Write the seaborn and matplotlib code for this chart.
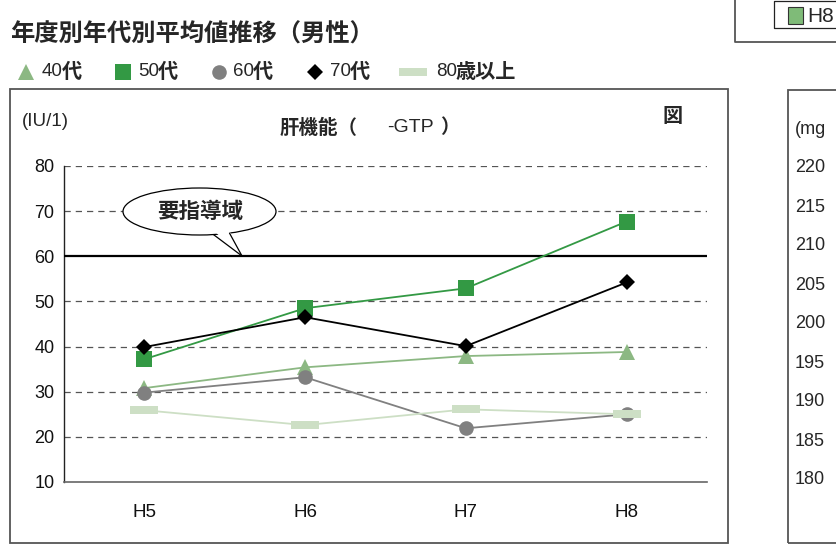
import matplotlib
matplotlib.use("Agg")
import matplotlib.pyplot as plt
import seaborn as sns
from matplotlib.patches import Ellipse, Rectangle, Polygon
from matplotlib.lines import Line2D

# =====================================================
# DATA
# =====================================================

years = ["H5", "H6", "H7", "H8"]
gtp_40 = [30.8, 35.4, 37.9, 38.8]
gtp_50 = [37.2, 48.5, 52.9, 67.7]
gtp_60 = [29.8, 33.2, 21.9, 25.0]
gtp_70 = [39.9, 46.5, 40.1, 54.2]
gtp_80 = [25.9, 22.6, 26.1, 25.0]
series_labels = ["40代", "50代", "60代", "70代", "80歳以上"]
guide_level = 60
y_ticks = [10, 20, 30, 40, 50, 60, 70, 80]
side_ticks = ["220", "215", "210", "205", "200", "195", "190", "185", "180"]

# =====================================================
# STYLE
# =====================================================

sns.set_style("white")
plt.rcParams['font.family'] = ['Liberation Sans', 'Noto Sans CJK JP', 'DejaVu Sans']

W, H = 837, 552


def fx(x):
    return x / W


def fy(y):
    return 1 - y / H


bar_marker = [(-1.75, -0.5), (1.75, -0.5), (1.75, 0.5), (-1.75, 0.5), (-1.75, -0.5)]

# draw order: 80, 40, 60, 70, 50
styles = [
    (gtp_80, "#cddfc5", bar_marker, 19.5, 4),
    (gtp_40, "#8cb883", "^", 11.5, 0),
    (gtp_60, "#808080", "o", 10.5, 2),
    (gtp_70, "#000000", "D", 8.0, 3),
    (gtp_50, "#339944", "s", 11.0, 1),
]

fig = plt.figure(figsize=(W / 100, H / 100), dpi=100)

# =====================================================
# MAIN CHART
# =====================================================

ax = fig.add_axes([fx(64), fy(482), (707 - 64) / W, (482 - 166) / H])

for vals, col, mk, ms, idx in styles:
    sns.lineplot(x=years, y=vals, ax=ax, color=col, marker=mk, markersize=ms,
                 markeredgewidth=0, linewidth=1.3, errorbar=None, zorder=5 + idx)

ax.axhline(guide_level, color="black", linewidth=1.6, zorder=4)
for v in y_ticks[1:]:
    if v != guide_level:
        ax.axhline(v, color="#555555", linewidth=0.9, linestyle=(0, (5, 4)), zorder=1)

ax.set_ylim(10, 80)
ax.set_xlim(-0.5, 3.5)
ax.set_yticks(y_ticks)
ax.set_xticks(range(len(years)))
ax.set_xticklabels(years)
ax.set_xticks([-0.5, 0.5, 1.5, 2.5, 3.5], minor=True)
ax.tick_params(axis="y", length=0, pad=7, labelsize=13, colors="#111111")
ax.tick_params(axis="x", which="major", length=0, pad=16, labelsize=13.5, colors="#111111")
ax.tick_params(axis="x", which="minor", length=5, direction="in", color="#555555", width=1)
ax.set_xlabel("")
ax.set_ylabel("")
sns.despine(ax=ax, top=True, right=True)
ax.spines["left"].set_color("#222222")
ax.spines["bottom"].set_color("#666666")
ax.spines["left"].set_linewidth(1)
ax.spines["bottom"].set_linewidth(1.2)
ax.set_facecolor("none")

# callout
ell = Ellipse((fx(199.5), fy(211.5)), 153 / W, 47 / H, transform=fig.transFigure,
              facecolor="white", edgecolor="black", linewidth=0.9, zorder=20)
fig.patches.append(ell)
tail_fill = Polygon([(fx(214), fy(231)), (fx(229), fy(230)), (fx(242), fy(256))],
                    closed=True, transform=fig.transFigure, facecolor="white",
                    edgecolor="none", zorder=21)
fig.patches.append(tail_fill)
fig.lines.append(Line2D([fx(213.5), fx(242)], [fy(234.6), fy(256)], transform=fig.transFigure,
                        color="black", linewidth=0.9, zorder=22))
fig.lines.append(Line2D([fx(229.5), fx(242)], [fy(233.1), fy(256)], transform=fig.transFigure,
                        color="black", linewidth=0.9, zorder=22))
fig.text(fx(200.5), fy(213), "要指導域", fontsize=15.5, fontweight="bold",
         ha="center", va="center", zorder=23)

# chart texts
fig.text(fx(22), fy(122), "(IU/1)", fontsize=13.5, ha="left", va="center")
fig.text(fx(280), fy(128), "肝機能（", fontsize=14, fontweight="bold", ha="left", va="center")
fig.text(fx(387), fy(128), "-GTP", fontsize=14, ha="left", va="center")
fig.text(fx(440), fy(128), "）", fontsize=14, fontweight="bold", ha="left", va="center")
fig.text(fx(673), fy(116), "図", fontsize=14.5, fontweight="bold", ha="center", va="center")

# main frame
fig.patches.append(Rectangle((fx(10), fy(543)), (728 - 10) / W, (543 - 89) / H,
                             transform=fig.transFigure, fill=False,
                             edgecolor="#555555", linewidth=1.3))

# =====================================================
# TITLE AND LEGEND
# =====================================================

fig.text(fx(10), fy(35), "年度別年代別平均値推移（男性）", fontsize=17.5,
         fontweight="bold", ha="left", va="center")

leg_markers = [
    ("#8cb883", "^", 11.5, 26),
    ("#339944", "s", 11.0, 123),
    ("#808080", "o", 10.5, 219),
    ("#000000", "D", 8.0, 315),
    ("#cddfc5", bar_marker, 19.5, 413),
]
leg_text_x = [42, 138, 233, 330, 436]
for (col, mk, ms, mx), tx, lab in zip(leg_markers, leg_text_x, series_labels):
    fig.lines.append(Line2D([fx(mx)], [fy(72)], transform=fig.transFigure, color=col,
                            marker=mk, markersize=ms, markeredgewidth=0, linestyle="none"))
    num = lab[:2]
    rest = lab[2:]
    fig.text(fx(tx), fy(72), num, fontsize=13.5, ha="left", va="center")
    fig.text(fx(tx + 20), fy(72), rest, fontsize=14.5, fontweight="bold", ha="left", va="center")

# =====================================================
# NEIGHBOUR CHART (cut off at right)
# =====================================================

fig.patches.append(Rectangle((fx(788), fy(543)), 100 / W, (543 - 90) / H,
                             transform=fig.transFigure, fill=False,
                             edgecolor="#555555", linewidth=1.3))
fig.text(fx(795), fy(129), "(mg", fontsize=13, ha="left", va="center")
for i, t in enumerate(side_ticks):
    fig.text(fx(795), fy(168 + i * 39), t, fontsize=13, ha="left", va="center")

# top-right legend fragment
fig.lines.append(Line2D([fx(735), fx(735), fx(840)], [fy(0), fy(42), fy(42)],
                        transform=fig.transFigure, color="#555555", linewidth=1.3))
fig.lines.append(Line2D([fx(840), fx(774), fx(774), fx(840)], [fy(1), fy(1), fy(28), fy(28)],
                        transform=fig.transFigure, color="#222222", linewidth=0.9))
fig.patches.append(Rectangle((fx(788), fy(24)), 15 / W, 17 / H, transform=fig.transFigure,
                             facecolor="#7fbb78", edgecolor="#333333", linewidth=0.8))
fig.text(fx(807), fy(16), "H8", fontsize=15, ha="left", va="center")

plt.savefig("out.png", dpi=100)
